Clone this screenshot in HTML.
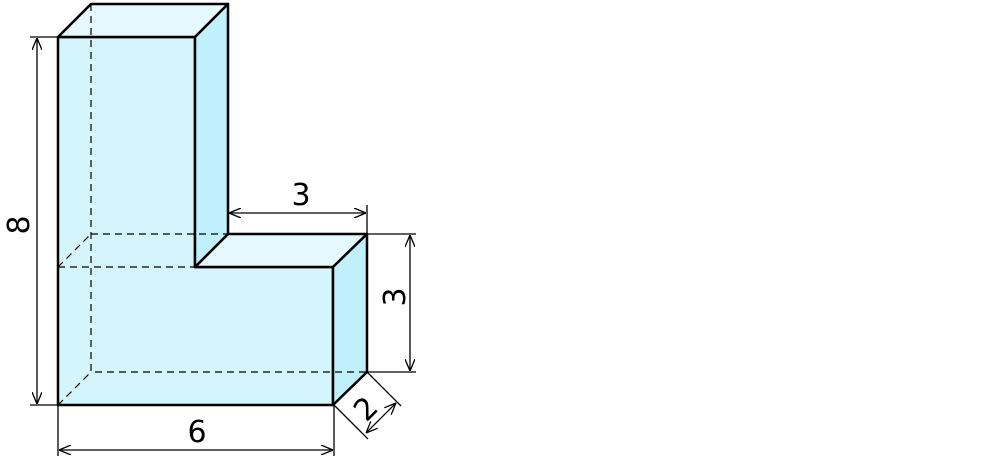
<!DOCTYPE html>
<html><head><style>html,body{margin:0;padding:0;background:#fff}svg{display:block}</style></head><body>
<svg width="1000" height="460" viewBox="0 0 1000 460" xmlns="http://www.w3.org/2000/svg">
<defs>
<marker id="a" viewBox="0 0 12 10" refX="12" refY="5" markerWidth="12" markerHeight="10" markerUnits="userSpaceOnUse" orient="auto-start-reverse">
<path d="M0,0 L12,5 L0,10" fill="none" stroke="#000" stroke-width="1.3"/></marker>
</defs>
<g stroke="#000" stroke-width="2.5" stroke-linejoin="round">
<path d="M58,37 L195,37 L195,267 L333,267 L333,405 L58,405 Z" fill="#d5f5fc"/>
<path d="M58,37 L91,4 L228,4 L195,37 Z" fill="#e5f8fd"/>
<path d="M195,267 L228,234 L367,234 L333,267 Z" fill="#e5f8fd"/>
<path d="M195,37 L228,4 L228,234 L195,267 Z" fill="#bff0fc"/>
<path d="M333,267 L367,234 L367,372 L333,405 Z" fill="#bff0fc"/>
</g>
<g stroke="#000" stroke-width="1.2" stroke-dasharray="7,5" fill="none">
<path d="M91,4 L91,372 L367,372"/>
<path d="M58,405 L91,372"/>
<path d="M91,234 L228,234"/>
<path d="M58,267 L195,267"/>
<path d="M58,267 L91,234"/>
</g>
<g stroke="#000" stroke-width="1.3" fill="none">
<path d="M30,37 L58,37 M30,405 L58,405"/>
<path d="M37,38 L37,404" marker-start="url(#a)" marker-end="url(#a)"/>
<path d="M58,405 L58,456 M334,405 L334,456"/>
<path d="M59,450 L333,450" marker-start="url(#a)" marker-end="url(#a)"/>
<path d="M367,205 L367,234"/>
<path d="M229,213 L366,213" marker-start="url(#a)" marker-end="url(#a)"/>
<path d="M367,234 L416,234 M367,372 L416,372"/>
<path d="M410,235 L410,371" marker-start="url(#a)" marker-end="url(#a)"/>
<path d="M367,372 L401,406 M334,405 L368,439"/>
<path d="M366,433 L396,403" marker-start="url(#a)" marker-end="url(#a)"/>
</g>
<g font-family="DejaVu Sans, Liberation Sans, sans-serif" font-size="30" fill="#000" text-anchor="middle">
<text x="197" y="442">6</text>
<text x="301" y="205">3</text>
<text transform="translate(29,225) rotate(-90)">8</text>
<text transform="translate(405,297) rotate(-90)">3</text>
<text transform="translate(373,416) rotate(-45)">2</text>
</g>
</svg>
</body></html>
